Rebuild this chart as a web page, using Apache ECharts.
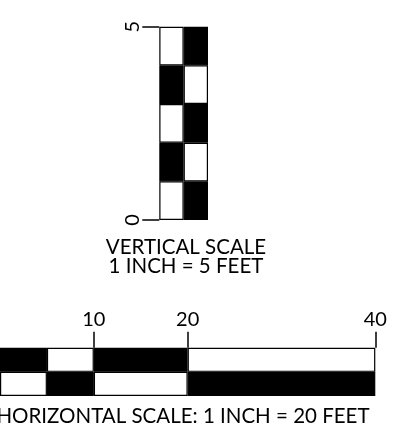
<!DOCTYPE html>
<html>
<head>
<meta charset="utf-8">
<script src="https://cdn.jsdelivr.net/npm/echarts@6/dist/echarts.min.js"></script>
<style>
  html, body { margin: 0; padding: 0; background: #fff; }
  #chart { width: 415px; height: 438px; }
</style>
</head>
<body>
<div id="chart"></div>
<script>
// vertical scale: 5 cells of 1 foot, two columns
var vertCells = [1, 1, 1, 1, 1];
var vertLeftColors = ["#fff", "#000", "#fff", "#000", "#fff"]; // from bottom
var vertRightColors = ["#000", "#fff", "#000", "#fff", "#000"];
var vertTicks = [0, 5];

// horizontal scale: segments in feet, two rows
var horizSegments = [5, 5, 10, 20];
var horizTopColors = ["#000", "#fff", "#000", "#fff"];
var horizBottomColors = ["#fff", "#000", "#fff", "#000"];
var horizTicks = [10, 20, 40];

var font = "Lato";

var chart = echarts.init(document.getElementById("chart"));

var series = [];
vertCells.forEach(function (v, i) {
  series.push({
    type: "bar",
    stack: "vert",
    xAxisIndex: 0,
    yAxisIndex: 0,
    barWidth: "100%",
    silent: true,
    data: [
      { value: v, itemStyle: { color: vertLeftColors[i] } },
      { value: v, itemStyle: { color: vertRightColors[i] } },
    ],
    itemStyle: { borderColor: "#000", borderWidth: 1.2 },
  });
});
horizSegments.forEach(function (v, i) {
  series.push({
    type: "bar",
    stack: "horiz",
    xAxisIndex: 1,
    yAxisIndex: 1,
    barWidth: "100%",
    silent: true,
    data: [
      { value: v, itemStyle: { color: horizBottomColors[i] } },
      { value: v, itemStyle: { color: horizTopColors[i] } },
    ],
    itemStyle: { borderColor: "#000", borderWidth: 1.2 },
  });
});

chart.setOption({
  animation: false,
  grid: [
    { left: 159.3, top: 26.7, width: 48.7, height: 193.3 },
    { left: -8.7, top: 347.7, width: 384, height: 48.3 },
  ],
  xAxis: [
    {
      gridIndex: 0,
      type: "category",
      data: ["left", "right"],
      show: false,
    },
    {
      gridIndex: 1,
      type: "value",
      position: "top",
      min: 0,
      max: 40,
      interval: 10,
      axisLine: { show: false },
      splitLine: { show: false },
      axisTick: {
        show: true,
        customValues: horizTicks,
        length: 16,
        lineStyle: { color: "#000", width: 1.5 },
      },
      axisLabel: {
        customValues: horizTicks,
        margin: 18,
        color: "#000",
        fontFamily: font,
        fontSize: 20,
      },
    },
  ],
  yAxis: [
    {
      gridIndex: 0,
      type: "value",
      min: 0,
      max: 5,
      interval: 5,
      axisLine: { show: false },
      splitLine: { show: false },
      axisTick: {
        show: true,
        customValues: vertTicks,
        length: 17,
        lineStyle: { color: "#000", width: 1.5 },
      },
      axisLabel: {
        customValues: vertTicks,
        rotate: 90,
        margin: 17,
        color: "#000",
        fontFamily: font,
        fontSize: 20,
      },
    },
    {
      gridIndex: 1,
      type: "category",
      data: ["bottom", "top"],
      show: false,
    },
  ],
  graphic: [
    {
      type: "text",
      x: 186,
      y: 247,
      style: {
        text: "VERTICAL SCALE",
        fill: "#000",
        font: "20.5px " + font,
        textAlign: "center",
        textVerticalAlign: "middle",
      },
    },
    {
      type: "text",
      x: 186,
      y: 266.5,
      style: {
        text: "1 INCH = 5 FEET",
        fill: "#000",
        font: "20.5px " + font,
        textAlign: "center",
        textVerticalAlign: "middle",
      },
    },
    {
      type: "text",
      x: 183,
      y: 416,
      style: {
        text: "HORIZONTAL SCALE: 1 INCH = 20 FEET",
        fill: "#000",
        font: "20.5px " + font,
        textAlign: "center",
        textVerticalAlign: "middle",
      },
    },
  ],
  series: series,
});
</script>
</body>
</html>
